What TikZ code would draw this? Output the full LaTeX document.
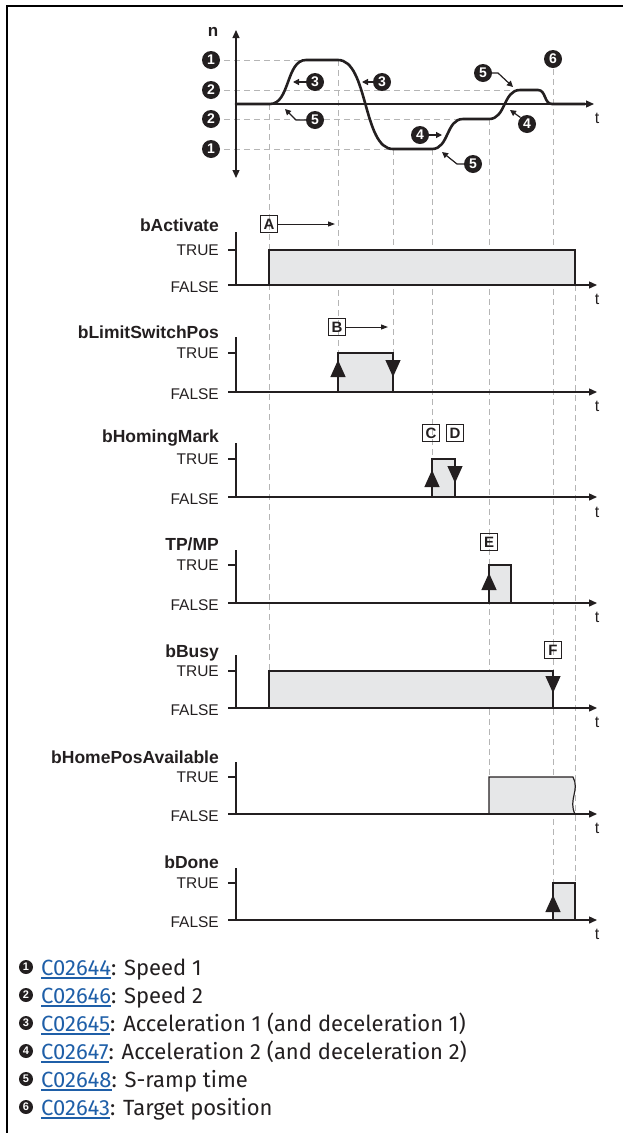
\documentclass[tikz,border=0pt]{standalone}
\usepackage{fontspec}
\setmainfont{Liberation Sans}
\newfontfamily\legendfont{Fira Sans}
\usetikzlibrary{arrows.meta}
\definecolor{sigfill}{HTML}{E6E7E8}
\definecolor{dashgray}{HTML}{B5B5B5}
\definecolor{ink}{HTML}{231F20}
\definecolor{linkblue}{HTML}{1F5FA8}
\newcommand\lnk[1]{\textcolor{linkblue}{\setbox0\hbox{#1}\rlap{\rule[-3.5pt]{\wd0}{1.4pt}}\box0}}
\tikzset{
  frameline/.style={line width=2pt, draw=black},
  dashline/.style={draw=dashgray, line width=1pt, dash pattern=on 6pt off 4pt},
  axisline/.style={line width=1.4pt, draw=ink},
  taxis/.style={line width=1.4pt, draw=ink, -{Triangle[length=8pt,width=7pt]}},
  curveline/.style={line width=2.6pt, draw=ink, line join=round, line cap=round},
  sigbox/.style={fill=sigfill, draw=ink, line width=1.2pt},
  numc/.style={circle, fill=ink, text=white, inner sep=0pt, minimum size=18pt, font=\fontsize{14}{14}\selectfont\bfseries},
  numl/.style={circle, fill=ink, text=white, inner sep=0pt, minimum size=14pt, font=\fontsize{11}{11}\selectfont\bfseries},
  siglabel/.style={anchor=east, font=\fontsize{17.5}{17.5}\selectfont\bfseries, inner sep=0pt, text=ink},
  lvl/.style={anchor=east, font=\fontsize{15.5}{15.5}\selectfont, inner sep=0pt, text=ink},
  tlab/.style={font=\fontsize{16}{16}\selectfont, inner sep=0pt, text=ink},
  letterbox/.style={draw=ink, line width=1pt, inner sep=0pt, minimum size=17pt, font=\fontsize{15}{15}\selectfont\bfseries, text=ink},
  ann/.style={line width=1.2pt, draw=ink, -{Triangle[length=6pt,width=6pt]}},
  letterarrow/.style={line width=1pt, draw=ink, -{Triangle[length=7pt,width=5pt]}},
  edgetip/.style={line width=1.2pt, draw=ink, -{Triangle[length=17pt,width=15pt]}},
  legendtext/.style={anchor=base west, inner sep=0pt, font=\legendfont\fontsize{22}{22}\selectfont, text=ink}
}
\begin{document}
\begin{tikzpicture}[x=1pt,y=-1pt]
\useasboundingbox (0,0) rectangle (623,1133);
% frame
\draw[frameline] (623,6) -- (7,6) -- (7,1133);

% ---------- dashed guide lines ----------
\draw[dashline] (224,60) -- (338,60);
\draw[dashline] (224,90) -- (520,90);
\draw[dashline] (224,119) -- (463,119);
\draw[dashline] (224,149) -- (393,149);
\draw[dashline] (269,104) -- (269,671);
\draw[dashline] (338,60) -- (338,353);
\draw[dashline] (393,149) -- (393,353);
\draw[dashline] (432,149) -- (432,459);
\draw[dashline] (489,119) -- (489,777);
\draw[dashline] (553,69) -- (553,883);
\draw[dashline] (575,285) -- (575,883);

% ---------- speed diagram ----------
\node[font=\fontsize{17}{17}\selectfont\bfseries, inner sep=0pt, text=ink] (nlab) at (213,32) {n};
\draw[line width=1.2pt, draw=ink, {Triangle[length=8pt,width=7pt]}-{Triangle[length=8pt,width=7pt]}] (236,30) -- (236,178);
\draw[line width=1.2pt, draw=ink, -{Triangle[length=8pt,width=7pt]}] (236,104) -- (594,104);
\node[tlab] (t0) at (597,118) {t};
\node[numc] (l1a) at (211,60) {1};
\node[numc] (l2a) at (211,90) {2};
\node[numc] (l2b) at (211,119) {2};
\node[numc] (l1b) at (211,149) {1};
\node[numc] (n6) at (553,59) {6};

\draw[curveline] (236,104) -- (270,104)
  .. controls (290,104) and (286,60) .. (306,60) -- (338,60)
  .. controls (368,60) and (363,149) .. (393,149) -- (432,149)
  .. controls (449,149) and (446,119) .. (463,119) -- (489,119)
  .. controls (506,119) and (503,90) .. (520,90) -- (538,90)
  .. controls (546,90) and (544,104) .. (552,104) -- (585,104);

\node[numc] (a3a) at (315,82) {3};
\draw[ann] (a3a.west) -- (293,82);
\node[numc] (a3b) at (382,82) {3};
\draw[ann] (a3b.west) -- (362,82);
\node[numc] (a5a) at (315,120) {5};
\draw[ann] (a5a.west) -- (296,120) -- (285,109);
\node[numc] (a4a) at (420,135) {4};
\draw[ann] (a4a.east) -- (442,135);
\node[numc] (a5b) at (473,164) {5};
\draw[ann] (a5b.west) -- (457,164) -- (442,152);
\node[numc] (a4b) at (527,124) {4};
\draw[ann] (a4b.north west) -- (510,110);
\node[numc] (a5c) at (483,73) {5};
\draw[ann] (a5c.east) -- (498,73) -- (513,87);

% ---------- bActivate ----------
\node[siglabel] (s1) at (219,225) {bActivate};
\node[lvl] (s1t) at (219,250) {TRUE};
\node[lvl] (s1f) at (219,287) {FALSE};
\draw[sigbox] (269,285) rectangle (575,250);
\draw[axisline] (236,232) -- (236,285);
\draw[axisline] (228,250) -- (236,250);
\draw[taxis] (228,285) -- (597,285);
\node[tlab] (t1) at (597,299) {t};
\node[letterbox] (bA) at (269,224) {A};
\draw[letterarrow] (bA.east) -- (335,224);

% ---------- bLimitSwitchPos ----------
\node[siglabel] (s2) at (219,332) {bLimitSwitchPos};
\node[lvl] (s2t) at (219,353) {TRUE};
\node[lvl] (s2f) at (219,394) {FALSE};
\draw[sigbox] (338,392) rectangle (393,353);
\draw[edgetip] (338,392) -- (338,360);
\draw[edgetip] (393,353) -- (393,377);
\draw[axisline] (236,337) -- (236,392);
\draw[axisline] (228,353) -- (236,353);
\draw[taxis] (228,392) -- (597,392);
\node[tlab] (t2) at (597,406) {t};
\node[letterbox] (bB) at (337,327) {B};
\draw[letterarrow] (bB.east) -- (388,327);

% ---------- bHomingMark ----------
\node[siglabel] (s3) at (219,438) {bHomingMark};
\node[lvl] (s3t) at (219,459) {TRUE};
\node[lvl] (s3f) at (219,499) {FALSE};
\draw[sigbox] (432,497) rectangle (455,459);
\draw[edgetip] (432,497) -- (432,470);
\draw[edgetip] (455,459) -- (455,483);
\draw[axisline] (236,443) -- (236,497);
\draw[axisline] (228,459) -- (236,459);
\draw[taxis] (228,497) -- (597,497);
\node[tlab] (t3) at (597,512) {t};
\node[letterbox] (bC) at (431,433) {C};
\node[letterbox] (bD) at (455,433) {D};

% ---------- TP/MP ----------
\node[siglabel] (s4) at (219,544) {TP/MP};
\node[lvl] (s4t) at (219,565) {TRUE};
\node[lvl] (s4f) at (219,605) {FALSE};
\draw[sigbox] (489,603) rectangle (511,565);
\draw[edgetip] (489,603) -- (489,573);
\draw[axisline] (236,550) -- (236,603);
\draw[axisline] (228,565) -- (236,565);
\draw[taxis] (228,603) -- (597,603);
\node[tlab] (t4) at (597,617) {t};
\node[letterbox] (bE) at (489,542) {E};

% ---------- bBusy ----------
\node[siglabel] (s5) at (219,653) {bBusy};
\node[lvl] (s5t) at (219,671) {TRUE};
\node[lvl] (s5f) at (219,710) {FALSE};
\draw[sigbox] (269,708) rectangle (553,671);
\draw[edgetip] (553,671) -- (553,693);
\draw[axisline] (236,655) -- (236,708);
\draw[axisline] (228,671) -- (236,671);
\draw[taxis] (228,708) -- (597,708);
\node[tlab] (t5) at (597,722) {t};
\node[letterbox] (bF) at (553,650) {F};

% ---------- bHomePosAvailable ----------
\node[siglabel] (s6) at (219,757) {bHomePosAvailable};
\node[lvl] (s6t) at (219,777) {TRUE};
\node[lvl] (s6f) at (219,816) {FALSE};
\fill[sigfill] (489,814) -- (489,777) -- (573,777) .. controls (580,790) and (568,800) .. (575,814) -- cycle;
\draw[ink, line width=1.2pt] (489,814) -- (489,777) -- (573,777) .. controls (580,790) and (568,800) .. (575,814);
\draw[axisline] (236,762) -- (236,814);
\draw[axisline] (228,777) -- (236,777);
\draw[taxis] (228,814) -- (597,814);
\node[tlab] (t6) at (597,828) {t};

% ---------- bDone ----------
\node[siglabel] (s7) at (219,862) {bDone};
\node[lvl] (s7t) at (219,883) {TRUE};
\node[lvl] (s7f) at (219,922) {FALSE};
\draw[sigbox] (553,920) rectangle (575,883);
\draw[edgetip] (553,920) -- (553,895);
\draw[axisline] (236,868) -- (236,920);
\draw[axisline] (228,883) -- (236,883);
\draw[taxis] (228,920) -- (597,920);
\node[tlab] (t7) at (597,934) {t};

% ---------- legend ----------
\node[numl] (g1) at (26,967) {1};
\node[legendtext] (g1t) at (41,975) {\lnk{C02644}: Speed 1};
\node[numl] (g2) at (26,995) {2};
\node[legendtext] (g2t) at (41,1003) {\lnk{C02646}: Speed 2};
\node[numl] (g3) at (26,1023) {3};
\node[legendtext] (g3t) at (41,1031) {\lnk{C02645}: Acceleration 1 (and deceleration 1)};
\node[numl] (g4) at (26,1051) {4};
\node[legendtext] (g4t) at (41,1059) {\lnk{C02647}: Acceleration 2 (and deceleration 2)};
\node[numl] (g5) at (26,1079) {5};
\node[legendtext] (g5t) at (41,1087) {\lnk{C02648}: S-ramp time};
\node[numl] (g6) at (26,1107) {6};
\node[legendtext] (g6t) at (41,1115) {\lnk{C02643}: Target position};
\end{tikzpicture}
\end{document}
